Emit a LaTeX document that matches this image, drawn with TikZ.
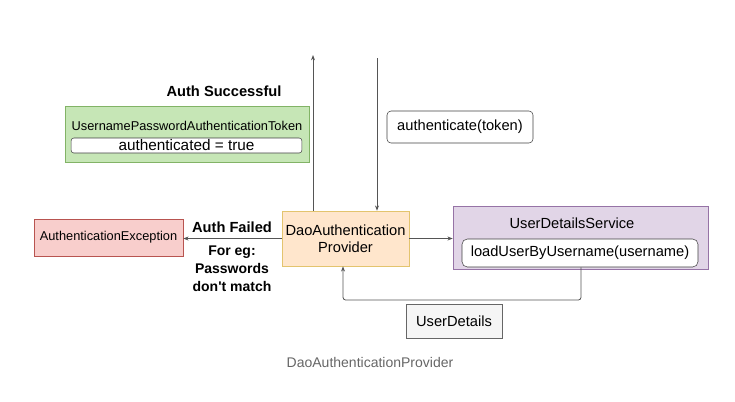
\documentclass[tikz,border=0pt]{standalone}
\usepackage{fontspec}
\setmainfont{Liberation Sans}
\usetikzlibrary{arrows.meta}

\definecolor{okfill}{HTML}{C6E6B6}
\definecolor{okline}{HTML}{82B366}
\definecolor{errfill}{HTML}{F8CECC}
\definecolor{errline}{HTML}{B85450}
\definecolor{daofill}{HTML}{FFE6CC}
\definecolor{daoline}{HTML}{E3C46E}
\definecolor{udsfill}{HTML}{E1D5E7}
\definecolor{udsline}{HTML}{9673A6}
\definecolor{udfill}{HTML}{F5F5F5}
\definecolor{udline}{HTML}{666666}
\definecolor{wire}{HTML}{555555}

\begin{document}
\begin{tikzpicture}[x=0.75pt, y=-0.75pt,
    box/.style={draw, inner sep=0pt, align=center},
    inbox/.style={box, fill=white, draw=black!75, rounded corners=2pt},
    wire/.style={draw=wire, line width=0.6pt, -{Stealth[length=4pt, width=3pt]}},
    lbl/.style={inner sep=0pt, align=center, font=\fontsize{11}{13.5}\selectfont\bfseries}]
    \useasboundingbox (0,0) rectangle (735,401);

    % token after success
    \node[box, fill=okfill, draw=okline, minimum width=183pt, minimum height=42pt] (tokbox) at (187,134) {};
    \node[inner sep=0pt, font=\fontsize{9.6}{11}\selectfont] (tok) at (187,126) {UsernamePasswordAuthenticationToken};
    \node[inbox, minimum width=173pt, minimum height=11.25pt, font=\fontsize{11.5}{11}\selectfont] (authd) at (186.5,145.5) {authenticated = true};
    \node[lbl] (succ) at (224,91) {Auth Successful};

    % provider in the middle
    \node[box, fill=daofill, draw=daoline, minimum width=95.25pt, minimum height=41.25pt,
          font=\fontsize{11}{13}\selectfont] (dao) at (345.5,238.5) {DaoAuthentication\\Provider};
    \node[box, draw=black!75, rounded corners=3pt, minimum width=109.5pt, minimum height=24pt,
          font=\fontsize{11}{12}\selectfont] (call) at (460,127) {authenticate(token)};

    % user details service
    \node[box, fill=udsfill, draw=udsline, minimum width=191.25pt, minimum height=47.25pt] (uds) at (580.5,237.5) {};
    \node[inner sep=0pt, font=\fontsize{11}{12}\selectfont] (udsname) at (572,223) {UserDetailsService};
    \node[inbox, rounded corners=4pt, minimum width=177pt, minimum height=21pt,
          font=\fontsize{11}{12}\selectfont] (load) at (580,253) {loadUserByUsername(username)};
    \node[box, fill=udfill, draw=udline, minimum width=72pt, minimum height=25.5pt,
          font=\fontsize{11}{12}\selectfont] (ud) at (454,321) {UserDetails};

    % failure
    \node[box, fill=errfill, draw=errline, minimum width=111.75pt, minimum height=27.75pt,
          font=\fontsize{9.6}{11}\selectfont] (exc) at (108.5,237.5) {AuthenticationException};
    \node[lbl] (fail) at (232,227) {Auth Failed};
    \node[lbl, font=\fontsize{10.5}{13.5}\selectfont\bfseries] (why) at (232,269) {For eg:\\Passwords\\don\textquotesingle t match};

    % connectors
    \coordinate (upend) at (313,55);
    \coordinate (downstart) at (377,58);
    \coordinate (retdown) at (581,300);
    \coordinate (retleft) at (343,300);
    \draw[wire] (upend |- dao.north) -- (upend);
    \draw[wire] (downstart) -- (downstart |- dao.north);
    \draw[wire] (dao.east) -- (dao.east -| uds.west);
    \draw[wire] (dao.west) -- (dao.west -| exc.east);
    \draw[wire, rounded corners=2pt] (retdown |- load.south) -- (retdown) -- (retleft) -- (retleft |- dao.south);

    \node[inner sep=0pt, text=black!60, font=\fontsize{10.5}{11}\selectfont] (cap) at (370,362) {DaoAuthenticationProvider};
\end{tikzpicture}
\end{document}
